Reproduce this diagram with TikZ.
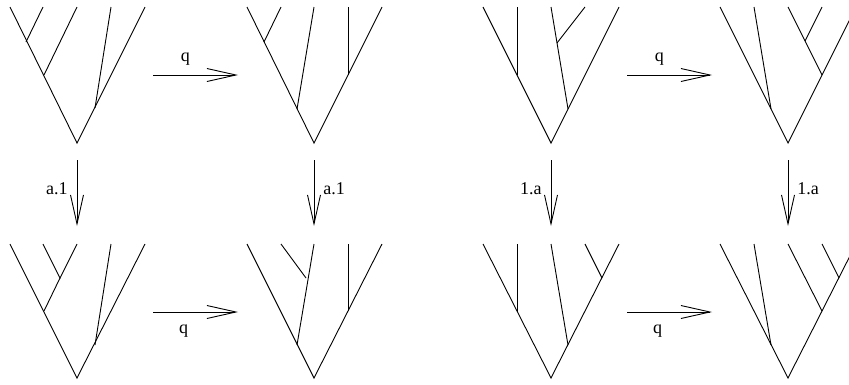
\documentclass[tikz,border=0pt]{standalone}
\usepackage{fontspec}
\setmainfont{Liberation Serif}
\usetikzlibrary{arrows.meta}
\begin{document}
\begin{tikzpicture}[x=1pt,y=-1pt,
  br/.style={line width=0.9pt},
  arr/.style={line width=0.9pt,-{Straight Barb[length=29pt,width=13pt,line width=0.9pt]}},
  lab/.style={font=\fontsize{18}{21}\selectfont,inner sep=1pt}]
\useasboundingbox (0,0) rectangle (849,384);
\clip (0,0) rectangle (849,384);
% ---------- Tree 1 (top left)
\coordinate (r1) at (77,143);
\draw[br] (10,7) -- (r1) -- (145,7);
\draw[br] (43,7) -- (26,42);
\draw[br] (77,7) -- (44,75);
\draw[br] (111,7) -- (95,108);
% ---------- Tree 2
\coordinate (r2) at (314,143);
\draw[br] (247,7) -- (r2) -- (382,7);
\draw[br] (281,7) -- (264,42);
\draw[br] (314,7) -- (297,109);
\draw[br] (348,7) -- (348,75);
% ---------- Tree 3
\coordinate (r3) at (551,143);
\draw[br] (483,7) -- (r3) -- (619,7);
\draw[br] (517,7) -- (517,75);
\draw[br] (551,7) -- (568,109);
\draw[br] (585,7) -- (557,43);
% ---------- Tree 4
\coordinate (r4) at (788,143);
\draw[br] (720,7) -- (r4) -- (856,7);
\draw[br] (754,7) -- (771,109);
\draw[br] (788,7) -- (822,75);
\draw[br] (822,7) -- (805,41);
% ---------- Tree 5 (bottom left)
\coordinate (r5) at (77,378);
\draw[br] (10,244) -- (r5) -- (145,244);
\draw[br] (43,244) -- (60,278) -- (77,244);
\draw[br] (60,278) -- (44,311);
\draw[br] (111,244) -- (95,345);
% ---------- Tree 6
\coordinate (r6) at (314,378);
\draw[br] (247,244) -- (r6) -- (382,244);
\draw[br] (281,244) -- (306,278);
\draw[br] (314,244) -- (297,345);
\draw[br] (348,244) -- (348,311);
% ---------- Tree 7
\coordinate (r7) at (551,378);
\draw[br] (483,244) -- (r7) -- (619,244);
\draw[br] (517,244) -- (517,312);
\draw[br] (551,244) -- (568,345);
\draw[br] (585,244) -- (602,278);
% ---------- Tree 8
\coordinate (r8) at (788,378);
\draw[br] (720,244) -- (r8) -- (856,244);
\draw[br] (754,244) -- (771,345);
\draw[br] (788,244) -- (822,311);
\draw[br] (822,244) -- (839,278);
% ---------- horizontal arrows
\coordinate (h1a) at (153,75); \coordinate (h1b) at (238,75);
\coordinate (h2a) at (627,75); \coordinate (h2b) at (712,75);
\coordinate (h3a) at (153,312); \coordinate (h3b) at (238,312);
\coordinate (h4a) at (627,312); \coordinate (h4b) at (712,312);
\draw[arr] (h1a) -- node[lab,pos=0.38,above=8pt] {q} (h1b);
\draw[arr] (h2a) -- node[lab,pos=0.38,above=8pt] {q} (h2b);
\draw[arr] (h3a) -- node[lab,pos=0.36,below=11pt] {q} (h3b);
\draw[arr] (h4a) -- node[lab,pos=0.36,below=11pt] {q} (h4b);
% ---------- vertical arrows
\coordinate (v1a) at (77,160); \coordinate (v1b) at (77,226);
\coordinate (v2a) at (314,160); \coordinate (v2b) at (314,226);
\coordinate (v3a) at (551,160); \coordinate (v3b) at (551,226);
\coordinate (v4a) at (788,160); \coordinate (v4b) at (788,226);
\draw[arr] (v1a) -- (v1b) node[lab,pos=0.44,left=8pt] {a.1};
\draw[arr] (v2a) -- (v2b) node[lab,pos=0.44,right=8pt] {a.1};
\draw[arr] (v3a) -- (v3b) node[lab,pos=0.44,left=8pt] {1.a};
\draw[arr] (v4a) -- (v4b) node[lab,pos=0.44,right=8pt] {1.a};
\end{tikzpicture}
\end{document}
